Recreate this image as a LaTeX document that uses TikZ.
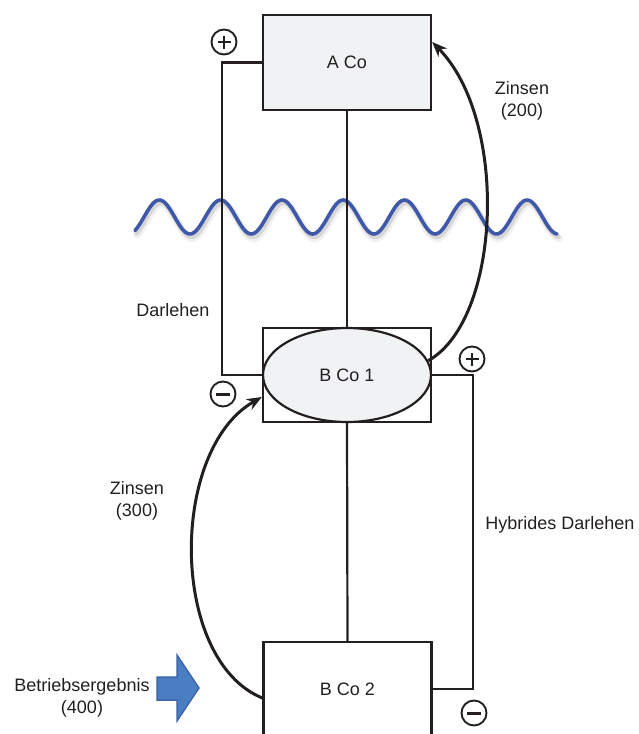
\documentclass[tikz,border=0pt]{standalone}
\usepackage{fontspec}
\setmainfont{Liberation Sans}
\usetikzlibrary{arrows.meta,calc,shapes.geometric}
\definecolor{ink}{HTML}{231F20}
\definecolor{boxfill}{HTML}{F1F2F4}
\definecolor{wave}{HTML}{3F58A8}
\definecolor{bluefill}{HTML}{4A7EC2}
\definecolor{blueedge}{HTML}{3C66A6}
\tikzset{
  company/.style={draw=ink, line width=2.3pt, minimum width=168pt, minimum height=95pt, inner sep=0pt, text=ink},
  conn/.style={draw=ink, line width=2.2pt},
  flow/.style={draw=ink, line width=3pt, -{Stealth[length=15pt,width=12pt]}},
  lbl/.style={text=ink, align=center, inner sep=0pt},
  signcirc/.style={circle, draw=ink, line width=1.9pt, minimum size=25pt, inner sep=0pt},
  plussign/.style={signcirc, path picture={\draw[ink, line width=2.7pt] ([xshift=-6.5pt]path picture bounding box.center) -- ([xshift=6.5pt]path picture bounding box.center) ([yshift=-6.5pt]path picture bounding box.center) -- ([yshift=6.5pt]path picture bounding box.center);}},
  minussign/.style={signcirc, path picture={\draw[ink, line width=3pt] ([xshift=-7pt]path picture bounding box.center) -- ([xshift=7pt]path picture bounding box.center);}},
}
\begin{document}
\begin{tikzpicture}[x=1pt,y=-1pt,font=\fontsize{18}{22}\selectfont]
\useasboundingbox (0,0) rectangle (638,734);
\clip (0,0) rectangle (638,734);
% wave with soft shadow
\draw[black!30, opacity=0.18, line width=8pt, line cap=round, xshift=2pt, yshift=-4pt]
  plot[domain=135:557, samples=220, smooth] (\x, {217-17*cos(5.8728*(\x-159.3))});
\draw[black!40, opacity=0.3, line width=4.5pt, line cap=round, xshift=1.5pt, yshift=-3pt]
  plot[domain=135:557, samples=220, smooth] (\x, {217-17*cos(5.8728*(\x-159.3))});
\draw[wave, line width=3.6pt, line cap=round]
  plot[domain=135:557, samples=220, smooth] (\x, {217-17*cos(5.8728*(\x-159.3))});
% companies
\node[company, fill=boxfill] (aco) at (347,62.5) {A Co};
\node[company, minimum height=94pt] (bco1) at (347,375) {};
\node[draw=ink, line width=2.2pt, ellipse, fill=boxfill, minimum width=168pt, minimum height=94pt, inner sep=0pt, text=ink] (ell) at (347,375) {B Co 1};
\node[company, minimum height=94pt] (bco2) at (347.5,689) {B Co 2};
% connectors
\draw[conn] (aco.south) -- (bco1.north);
\draw[conn] (bco1.south) -- (bco2.north);
\draw[conn] (aco.west) -- ++(-40,0) |- (bco1.west);
\draw[conn] (ell.east) -- ++(41,0) |- (bco2.east);
% interest flows
\draw[flow] (ell.10) .. controls +(73,-41) and +(77,78) .. ([yshift=20.5pt]aco.east);
\draw[flow] ([yshift=-9pt]bco2.west) .. controls +(-93,-38) and +(-93,53) .. ([yshift=-22pt]bco1.west);
% signs
\node[plussign] (p1) at (224,42) {};
\node[plussign] (p2) at (472,359) {};
\node[minussign] (m1) at (223,394) {};
\node[minussign] (m2) at (474,713) {};
% labels
\node[lbl] (z200) at (522,101) {Zinsen\\(200)};
\node[lbl] (darl) at (173,310) {Darlehen};
\node[lbl] (z300) at (137,501) {Zinsen\\(300)};
\node[lbl] (hyb) at (560,525) {Hybrides Darlehen};
\node[lbl] (betr) at (82,698) {Betriebsergebnis\\(400)};
% blue block arrow
\draw[fill=bluefill, draw=blueedge, line width=1.5pt, line join=miter]
  (157,677) -- (177,677) -- (177,655) -- (199,688) -- (177,721) -- (177,700) -- (157,700) -- cycle;
\end{tikzpicture}
\end{document}
